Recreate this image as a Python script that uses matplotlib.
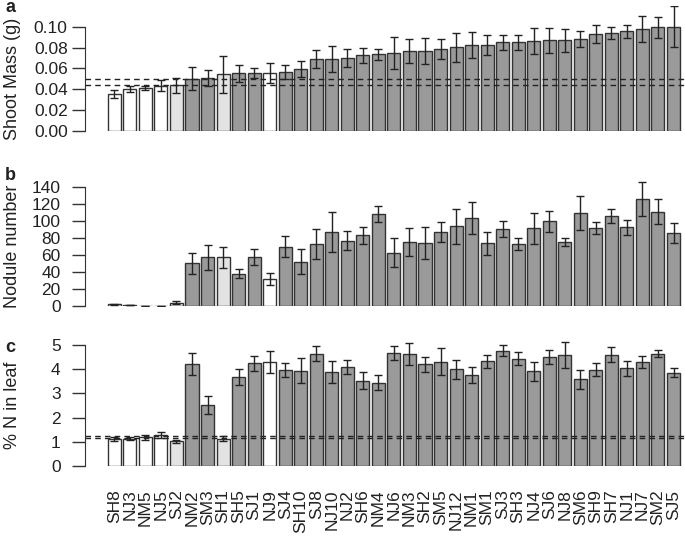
import numpy as np
import matplotlib
matplotlib.use("Agg")
import matplotlib.pyplot as plt

plt.rcParams["font.family"] = ["Liberation Sans", "DejaVu Sans"]

strains = ["SH8", "NJ3", "NM5", "NJ5", "SJ2", "NM2", "SM3", "SH1", "SH5", "SJ1",
           "NJ9", "SJ4", "SH10", "SJ8", "NJ10", "NJ2", "SH6", "NM4", "NJ6", "NM3",
           "SH2", "SM5", "NJ12", "NM1", "SM1", "SJ3", "SH3", "NJ4", "SJ6", "NJ8",
           "SM6", "SH9", "SH7", "NJ1", "NJ7", "SM2", "SJ5"]
# 0 = white, 1 = light grey, 2 = dark grey
group = [0, 0, 0, 0, 1, 2, 2, 1, 2, 2,
         0, 2, 2, 2, 2, 2, 2, 2, 2, 2,
         2, 2, 2, 2, 2, 2, 2, 2, 2, 2,
         2, 2, 2, 2, 2, 2, 2]

shoot_mass = [0.0355, 0.0403, 0.041, 0.0435, 0.0438, 0.050, 0.051, 0.0543, 0.0553, 0.0556,
              0.056, 0.0565, 0.0597, 0.069, 0.069, 0.0703, 0.0725, 0.0735, 0.0744, 0.0767,
              0.0767, 0.0786, 0.0802, 0.0824, 0.0824, 0.085, 0.0853, 0.0863, 0.0869, 0.0869,
              0.0882, 0.0933, 0.0939, 0.0958, 0.098, 0.0994, 0.100]
shoot_err = [0.0037, 0.003, 0.002, 0.0055, 0.007, 0.011, 0.0077, 0.0177, 0.008, 0.0046,
             0.0096, 0.0064, 0.0078, 0.009, 0.0123, 0.0086, 0.0075, 0.005, 0.0153, 0.0115,
             0.0121, 0.0093, 0.0137, 0.0128, 0.0099, 0.0075, 0.0072, 0.0121, 0.0117, 0.0112,
             0.0073, 0.0088, 0.0058, 0.0062, 0.0125, 0.0101, 0.0195]

nodules = [1.5, 0.3, 0.2, 0.2, 3.5, 50, 57, 57, 38, 57.6,
           31.5, 70, 52, 73.3, 87, 77, 83.2, 108.4, 62.7, 75.3,
           74.1, 87.1, 94.2, 103.7, 73.7, 90.3, 72.6, 91.5, 99.8, 75.7,
           109.2, 91.9, 106, 92.7, 126.2, 111.2, 86]
nodule_err = [0.5, 0, 0, 0, 1.6, 12.4, 15, 13, 5.3, 9.7,
              7.5, 12.2, 14.5, 17.7, 23.7, 11, 10, 9.3, 16.8, 16,
              18.5, 11.6, 20.7, 19.5, 13.4, 9.3, 7.3, 18, 12.6, 4.7,
              20, 6.7, 8.7, 8.9, 20.5, 14.4, 11.4]

leaf_n = [1.13, 1.13, 1.18, 1.27, 1.02, 4.21, 2.53, 1.13, 3.69, 4.24,
          4.31, 3.97, 3.94, 4.63, 3.87, 4.1, 3.53, 3.44, 4.66, 4.64,
          4.2, 4.31, 3.99, 3.76, 4.33, 4.77, 4.44, 3.91, 4.5, 4.59,
          3.58, 3.97, 4.6, 4.04, 4.3, 4.64, 3.86]
leaf_err = [0.08, 0.07, 0.12, 0.12, 0.07, 0.45, 0.38, 0.1, 0.33, 0.3,
            0.45, 0.28, 0.53, 0.31, 0.45, 0.3, 0.35, 0.3, 0.3, 0.45,
            0.31, 0.57, 0.4, 0.33, 0.27, 0.21, 0.28, 0.38, 0.29, 0.54,
            0.39, 0.27, 0.32, 0.31, 0.26, 0.15, 0.17]

# reference (uninoculated) levels, dashed
ref_mass = [0.0498, 0.0444]
ref_leaf = [1.25, 1.14]

fills = {0: "white", 1: "#e3e3e3", 2: "#9a9a9a"}
colors = [fills[g] for g in group]
x = np.arange(len(strains))

W, H = 685, 537
fig = plt.figure(figsize=(W / 100, H / 100), dpi=100)

# (axis-zero pixel row, pixels per unit, ymax, ticks, fmt, label, letter, letter row, refs, pad)
panels = [
    (131.0, 1043.0, 0.12, np.arange(0, 0.101, 0.02), "{:.2f}", "Shoot Mass (g)", "a", 8,
     ref_mass, shoot_mass, shoot_err, 3),
    (305.7, 0.8457, 150, np.arange(0, 141, 20), "{:.0f}", "Nodule number", "b", 176,
     None, nodules, nodule_err, 8),
    (466.0, 24.2, 5.3, np.arange(0, 6, 1), "{:.0f}", "% N in leaf", "c", 348,
     ref_leaf, leaf_n, leaf_err, 8),
]

left_px = 85
for i, (y0, ppu, ymax, ticks, fmt, ylab, letter, let_y, refs, vals, errs, pad) in enumerate(panels):
    hpx = ymax * ppu
    ax = fig.add_axes([left_px / W, (H - y0) / H, (W - left_px) / W, hpx / H])
    ax.bar(x, vals, width=0.84, color=colors, edgecolor="#333333", linewidth=1.0, zorder=2)
    ax.errorbar(x, vals, yerr=errs, fmt="none", ecolor="#222222", elinewidth=1.0,
                capsize=3.2, capthick=1.0, zorder=3)
    if refs is not None:
        for r in refs:
            ax.axhline(r, color="#222222", lw=1.0, ls=(0, (4, 3)), zorder=4)
    ax.set_xlim(-1.89, 36.74)
    ax.set_ylim(0, ymax)
    for s in ["top", "right", "bottom"]:
        ax.spines[s].set_visible(False)
    ax.spines["left"].set_bounds(ticks[0], ticks[-1])
    ax.spines["left"].set_color("#333333")
    ax.set_yticks(ticks)
    ax.set_yticklabels([fmt.format(t) for t in ticks])
    ax.tick_params(axis="y", length=9.5, width=1.0, color="#333333", labelsize=12.5,
                   pad=pad, labelcolor="#222222")
    if i < 2:
        ax.set_xticks([])
    else:
        ax.set_xticks(x)
        ax.set_xticklabels(strains, rotation=90, fontsize=12.5, color="#222222")
        ax.tick_params(axis="x", length=0, pad=17)
    ax.patch.set_visible(False)
    fig.text(13 / W, (H - (y0 - ticks[-1] * ppu / 2)) / H, ylab, rotation=90,
             ha="center", va="center", fontsize=13, color="#222222")
    fig.text(10 / W, (H - let_y) / H, letter, ha="center", va="center",
             fontsize=13, fontweight="bold", color="#222222")

fig.savefig("out.png", dpi=100)
